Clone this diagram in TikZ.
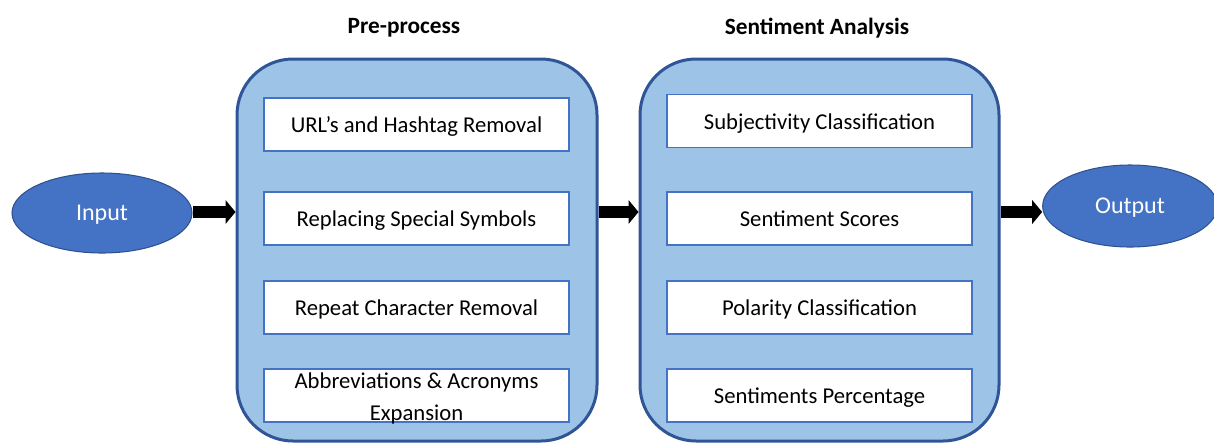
\documentclass[tikz,border=0pt]{standalone}
\usepackage{fontspec}
\setmainfont{Carlito}
\usetikzlibrary{arrows.meta,shapes.geometric}
\definecolor{panelfill}{HTML}{9DC3E6}
\definecolor{paneldraw}{HTML}{2F5597}
\definecolor{boxdraw}{HTML}{4472C4}
\definecolor{ellfill}{HTML}{4472C4}
\definecolor{elldraw}{HTML}{2F528F}
\tikzset{
  panel/.style={draw=paneldraw, line width=2.25pt, fill=panelfill, rounded corners=42pt,
    minimum height=286.5pt, inner sep=0pt},
  stepframe/.style={draw=boxdraw, line width=0.9pt, fill=white, minimum width=228.75pt,
    minimum height=39.75pt, inner sep=0pt},
  steptext/.style={font=\fontsize{17}{23.5}\selectfont},
  stepbox/.style={stepframe, steptext, text height=15.8pt, text depth=3.4pt},
  endell/.style={ellipse, draw=elldraw, line width=0.8pt, fill=ellfill, text=white,
    minimum width=135pt, minimum height=60pt, inner sep=0pt,
    font=\fontsize{18}{22}\selectfont, text height=15.2pt, text depth=3.6pt},
  paneltitle/.style={font=\fontsize{17.5}{21}\selectfont\bfseries, inner sep=0pt},
  blockarrow/.style={line width=9.5pt, black,
    -{Triangle[length=7.5pt 0 0, width=18pt 0 0, line width=0pt 0 0]}}
}
\begin{document}
\begin{tikzpicture}[x=0.75pt,y=-0.75pt]
\useasboundingbox (0,0) rectangle (1214,444);
% panels
\node[panel, minimum width=270pt] (pre) at (417,250) {};
\node[panel, minimum width=269.25pt] (sent) at (819.5,250) {};
% titles
\node[paneltitle] (pretitle) at (404,28) {Pre-process};
\node[paneltitle] (senttitle) at (817,28) {Sentiment Analysis};
% pre-process steps
\node[stepbox] (p1) at (416.5,124.5) {URL’s and Hashtag Removal};
\node[stepbox] (p2) at (416.5,218.5) {Replacing Special Symbols};
\node[stepbox] (p3) at (416.5,307.5) {Repeat Character Removal};
\node[stepframe] (p4) at (416.5,395.5) {};
\node[steptext, inner sep=0pt, align=center] (p4text) at ([yshift=-2.2pt]p4.center)
  {Abbreviations \& Acronyms\\Expansion};
% sentiment steps
\node[stepbox] (s1) at (819.5,121) {Subjectivity Classification};
\node[stepbox] (s2) at (819.5,218.5) {Sentiment Scores};
\node[stepbox] (s3) at (819.5,307.5) {Polarity Classification};
\node[stepbox] (s4) at (819.5,395.5) {Sentiments Percentage};
% input / output
\node[endell] (in) at (102,213) {Input};
\node[endell, minimum width=131pt, minimum height=61.5pt] (out) at (1130,206) {Output};
% arrows
\coordinate (lvl) at (0,212);
\draw[blockarrow] (in.east |- lvl) -- (pre.west |- lvl);
\draw[blockarrow] (pre.east |- lvl) -- (sent.west |- lvl);
\draw[blockarrow] (sent.east |- lvl) -- (out.west |- lvl);
\end{tikzpicture}
\end{document}
